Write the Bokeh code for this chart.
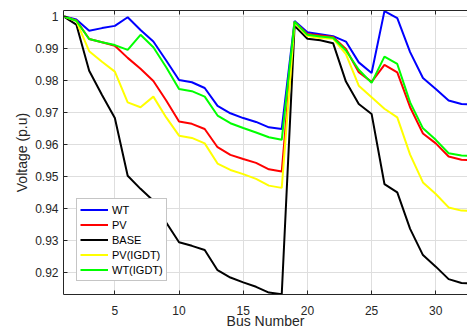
from bokeh.plotting import figure
from bokeh.models import (ColumnDataSource, FixedTicker, LinearAxis, Legend, LegendItem,
                          CustomJSTickFormatter, Range1d)
from bokeh.embed import file_html
from bokeh.resources import INLINE

bus = list(range(1, 34))
wt = [1.0, 0.999, 0.9955, 0.9963, 0.997, 0.9997, 0.9957, 0.9921, 0.9862, 0.9801, 0.9794,
      0.9776, 0.972, 0.9697, 0.9682, 0.967, 0.9653, 0.9648, 0.9985, 0.995, 0.9944, 0.9938,
      0.9921, 0.9856, 0.9823, 1.0016, 0.9994, 0.9888, 0.9807, 0.9773, 0.9737, 0.9726, 0.9724]
pv = [1.0, 0.9987, 0.9929, 0.9919, 0.9908, 0.987, 0.9836, 0.9798, 0.9737, 0.9671, 0.9664,
      0.9648, 0.9591, 0.9567, 0.9554, 0.9542, 0.9522, 0.9515, 0.9982, 0.9945, 0.994, 0.9935,
      0.9898, 0.9825, 0.9795, 0.9848, 0.9825, 0.9716, 0.9634, 0.9603, 0.9562, 0.9552, 0.955]
base = [1.0, 0.9974, 0.983, 0.9754, 0.9682, 0.9502, 0.9461, 0.9424, 0.9356, 0.9294, 0.9283,
        0.927, 0.9207, 0.9184, 0.9169, 0.9155, 0.9137, 0.9132, 0.997, 0.993, 0.9925, 0.9916,
        0.9796, 0.9726, 0.9695, 0.9476, 0.945, 0.9336, 0.9254, 0.9218, 0.9179, 0.9167, 0.9165]
pv_igdt = [1.0, 0.9985, 0.9891, 0.9858, 0.9827, 0.9731, 0.9716, 0.9749, 0.9684, 0.9627, 0.962,
           0.9603, 0.954, 0.952, 0.9507, 0.9492, 0.9471, 0.9464, 0.998, 0.9938, 0.9932, 0.993,
           0.9882, 0.9783, 0.9747, 0.9711, 0.9684, 0.9568, 0.9481, 0.9445, 0.9403, 0.9393, 0.9392]
wt_igdt = [1.0, 0.9986, 0.9929, 0.9919, 0.991, 0.9895, 0.9942, 0.9903, 0.9841, 0.9773, 0.9766,
           0.9749, 0.969, 0.9666, 0.9651, 0.9637, 0.9622, 0.9614, 0.9983, 0.9942, 0.9937, 0.9933,
           0.9893, 0.9833, 0.9792, 0.9874, 0.9851, 0.9731, 0.965, 0.9614, 0.9572, 0.9565, 0.9564]

series_names = ["WT", "PV", "BASE", "PV(IGDT)", "WT(IGDT)"]
series_values = [wt, pv, base, pv_igdt, wt_igdt]
series_colors = ["#0000ff", "#ff0000", "#000000", "#ffff00", "#00ff00"]

x_ticks = [5, 10, 15, 20, 25, 30]
y_ticks = [0.92, 0.93, 0.94, 0.95, 0.96, 0.97, 0.98, 0.99, 1.0]

AX = "#262626"
FONT = "Liberation Sans"

p = figure(width=467, height=332, output_backend="svg", toolbar_location=None,
           x_range=Range1d(1, 32.47), y_range=Range1d(0.9131, 1.0018),
           min_border_left=63, min_border_right=0, min_border_top=10, min_border_bottom=38,
           background_fill_color="white", border_fill_color="white")
p.outline_line_color = None

xt = FixedTicker(ticks=x_ticks)
yt = FixedTicker(ticks=y_ticks)
fmt = CustomJSTickFormatter(code="return String(Math.round(tick*100)/100);")

p.xaxis.ticker = xt
p.yaxis.ticker = yt
p.yaxis.formatter = fmt
for ax in (p.xaxis[0], p.yaxis[0]):
    ax.major_tick_in = 4
    ax.major_tick_out = 0
    ax.minor_tick_line_color = None
    ax.axis_line_color = AX
    ax.major_tick_line_color = AX
    ax.major_label_text_color = AX
    ax.major_label_text_font = FONT
    ax.major_label_text_font_size = "12px"
    ax.axis_label_text_font = FONT
    ax.axis_label_text_font_style = "normal"
    ax.axis_label_text_font_size = "14px"
    ax.axis_label_text_color = AX
p.xaxis.major_label_standoff = 11
p.xaxis.axis_label = "Bus Number"
p.xaxis.axis_label_standoff = -5
p.yaxis.major_label_standoff = 5
p.yaxis.axis_label = "Voltage (p.u)"
p.yaxis.axis_label_standoff = 2

top = LinearAxis(ticker=xt, formatter=CustomJSTickFormatter(code="return '';"),
                 major_label_text_font_size="1px", major_label_standoff=0,
                 major_tick_in=4, major_tick_out=0, minor_tick_line_color=None,
                 axis_line_color=AX, major_tick_line_color=AX)
p.add_layout(top, "above")

p.xgrid.ticker = xt
p.ygrid.ticker = yt
p.xgrid.grid_line_color = "#dedede"
p.ygrid.grid_line_color = "#dedede"

src = ColumnDataSource(dict(bus=bus, **{n: v for n, v in zip(series_names, series_values)}))
items = []
for n, c in zip(series_names, series_colors):
    r = p.line("bus", n, source=src, line_color=c, line_width=2)
    items.append(LegendItem(label=n, renderers=[r]))

leg = Legend(items=items, location=(13, 13), margin=0, padding=3, spacing=0,
             glyph_width=28, glyph_height=15, label_height=15, label_standoff=4,
             label_text_font=FONT, label_text_font_size="11px", label_text_color="#000000",
             border_line_color="#8c8c8c", border_line_width=1, background_fill_color="white",
             background_fill_alpha=1)
p.add_layout(leg, "center")

open("out.html", "w").write(file_html(p, INLINE))
